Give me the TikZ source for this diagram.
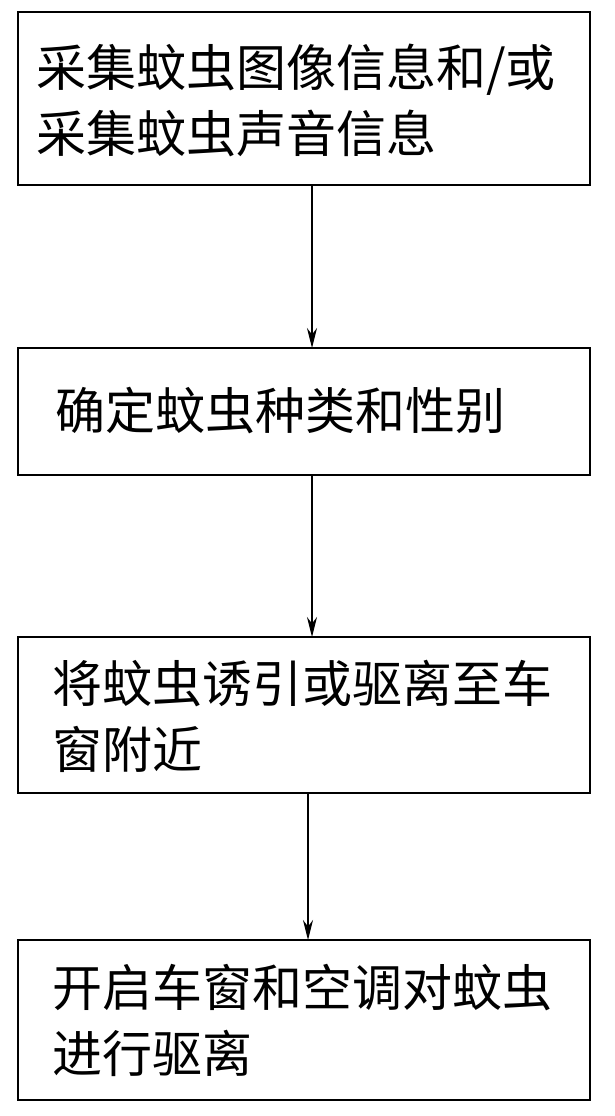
\documentclass[tikz,border=0pt]{standalone}
\usepackage{fontspec}
\newfontfamily\cjk{Noto Sans CJK SC}
\usetikzlibrary{arrows.meta}
\begin{document}
\begin{tikzpicture}[x=1pt,y=-1pt,
  boxst/.style={draw,line width=1.2pt},
  txt/.style={anchor=west,align=left,font=\cjk\fontsize{50}{66}\selectfont,inner sep=0pt},
  arr/.style={line width=1.2pt,-{Stealth[length=20pt,width=10pt]}}]
\useasboundingbox (0,0) rectangle (615,1116);
\draw[boxst] (18,12) rectangle (590,185);
\node[txt] (t1) at (36,100) {采集蚊虫图像信息和/或\\采集蚊虫声音信息};
\draw[boxst] (18,348) rectangle (590,475);
\node[txt] (t2) at (55,411) {确定蚊虫种类和性别};
\draw[boxst] (18,637) rectangle (590,793);
\node[txt] (t3) at (52,716) {将蚊虫诱引或驱离至车\\窗附近};
\draw[boxst] (18,940) rectangle (590,1100);
\node[txt] (t4) at (52,1020) {开启车窗和空调对蚊虫\\进行驱离};
\coordinate (a1) at (312,185); \coordinate (b1) at (312,348);
\coordinate (a2) at (312,475); \coordinate (b2) at (312,637);
\coordinate (a3) at (308,793); \coordinate (b3) at (308,940);
\draw[arr] (a1) -- (b1);
\draw[arr] (a2) -- (b2);
\draw[arr] (a3) -- (b3);
\end{tikzpicture}
\end{document}
